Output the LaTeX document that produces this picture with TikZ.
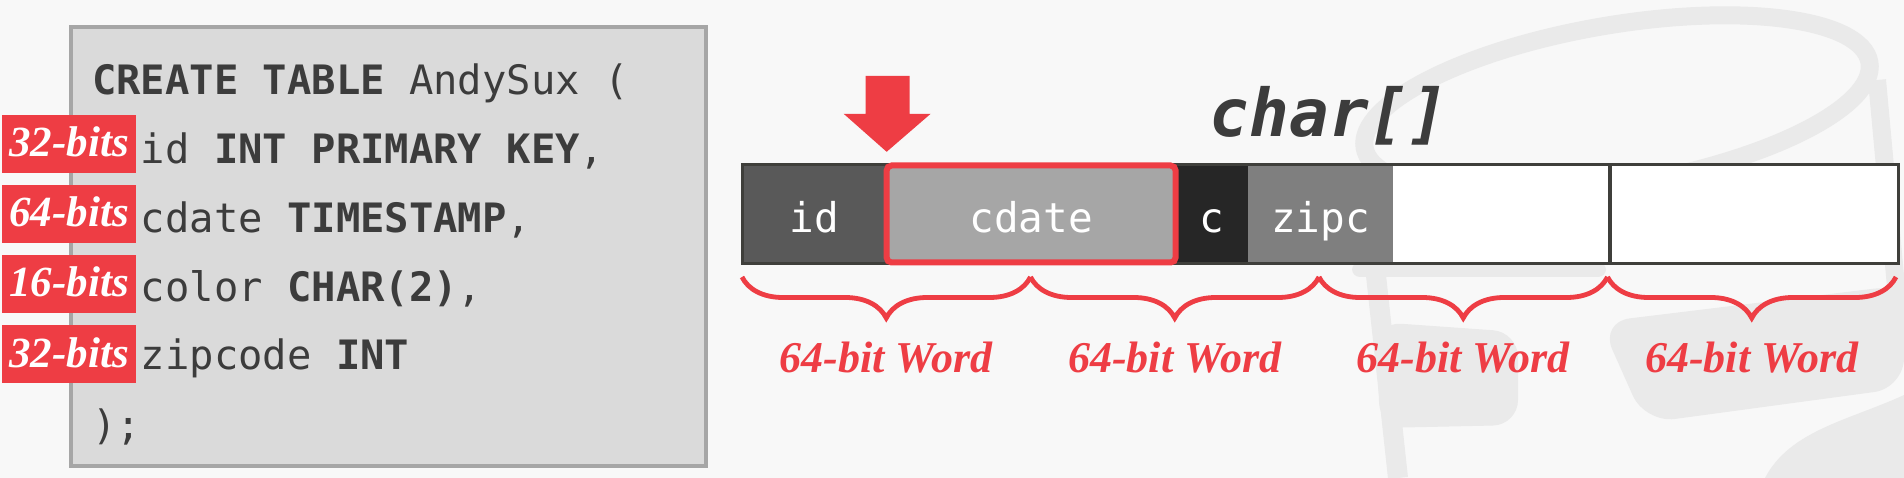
\documentclass[tikz,border=0pt]{standalone}
\usepackage{fontspec}
\usetikzlibrary{decorations.pathreplacing}
\newfontfamily\codefont{DejaVu Sans Mono}
\newfontfamily\titlefont{DejaVu Sans Mono Bold Oblique}
\newfontfamily\labfont{Liberation Serif Bold Italic}
\definecolor{bgc}{HTML}{F8F8F8}
\definecolor{wmc}{HTML}{EAEAEA}
\definecolor{redc}{HTML}{EE3D44}
\definecolor{codec}{HTML}{3C3C3C}
\definecolor{sqlfill}{HTML}{DADADA}
\definecolor{sqlline}{HTML}{A6A6A6}
\definecolor{outl}{HTML}{3F3F3B}
\definecolor{cid}{HTML}{595959}
\definecolor{ccdate}{HTML}{A6A6A6}
\definecolor{cc}{HTML}{262626}
\definecolor{czip}{HTML}{7F7F7F}
\begin{document}
\begin{tikzpicture}[x=1pt,y=-1pt,
  code/.style={inner sep=0pt, anchor=base west, text=codec,
    font=\codefont\fontsize{40.5}{40.5}\selectfont},
  bitlab/.style={fill=redc, text=white, anchor=east, inner xsep=7pt, inner ysep=0pt,
    minimum height=58pt, text height=26pt, text depth=0pt,
    font=\labfont\fontsize{43}{43}\selectfont},
  cell/.style={anchor=west, inner sep=0pt, minimum height=98pt,
    text height=38pt, text depth=0pt, text=white,
    font=\codefont\fontsize{41}{41}\selectfont},
  wbrace/.style={draw=redc, line width=4.8pt, decorate,
    decoration={brace, mirror, amplitude=41pt}},
  wordlab/.style={anchor=base, inner sep=0pt, text=redc,
    font=\labfont\fontsize{44}{44}\selectfont},
  wm/.style={draw=wmc, fill=wmc}
]
\useasboundingbox (0,0) rectangle (1904,478);
\fill[bgc] (0,0) rectangle (1904,478);

% faint watermark (database logo)
\begin{scope}[wm]
  \draw[fill=none, line width=18pt, rotate around={9.6:(1617,105)}]
    (1617,105) ellipse [x radius=256, y radius=80];
  \draw[line width=20pt] (1364,165) -- (1398,478);
  \draw[line width=18pt] (1877,80) -- (1900,330);
  \fill[rounded corners=8pt] (1352,262) rectangle (1606,277);
  \fill[rounded corners=25pt] (1376,322) -- (1518,332) -- (1518,425) -- (1380,428) -- cycle;
  \fill[rounded corners=30pt] (1600,322) -- (1904,285) -- (1904,388) -- (1645,423) -- cycle;
  \fill (1765,478) .. controls (1790,430) and (1850,420) .. (1904,395) -- (1904,478) -- cycle;
\end{scope}

% SQL box
\node[draw=sqlline, line width=4pt, fill=sqlfill, minimum width=635pt,
  minimum height=439pt, inner sep=0pt] (sql) at (388.5,246.5) {};

\node[code] (l1) at (92,95)  {\textbf{CREATE TABLE} AndySux (};
\node[code] (l2) at (92,164) {\phantom{xx}id \textbf{INT PRIMARY KEY},};
\node[code] (l3) at (92,233) {\phantom{xx}cdate \textbf{TIMESTAMP},};
\node[code] (l4) at (92,302) {\phantom{xx}color \textbf{CHAR(2)},};
\node[code] (l5) at (92,370) {\phantom{xx}zipcode \textbf{INT}};
\node[code] (l6) at (92,439) {);};

\node[bitlab] (b1) at (136,144) {32-bits};
\node[bitlab] (b2) at (136,214) {64-bits};
\node[bitlab] (b3) at (136,284) {16-bits};
\node[bitlab] (b4) at (136,354) {32-bits};

% title
\node[anchor=base, inner sep=0pt, text=codec,
  font=\titlefont\fontsize{66}{66}\selectfont] (title) at (1329,137) {char[]};

% byte array
\node[cell, fill=cid, minimum width=144.25pt] (cid) at (742,214) {id};
\node[cell, fill=ccdate, minimum width=288.5pt] (cdate) at (cid.east) {cdate};
\node[cell, fill=cc, minimum width=72.125pt] (cc) at (cdate.east) {c};
\node[cell, fill=czip, minimum width=144.25pt] (czip) at (cc.east) {zipc};
\node[cell, fill=white, minimum width=216.375pt] (w1) at (czip.east) {};
\node[cell, fill=white, minimum width=288.5pt] (w2) at (w1.east) {};
\draw[outl, line width=3pt] (cid.north west) rectangle (w2.south east);
\draw[outl, line width=4pt] (w2.north west) -- (w2.south west);

% highlight
\node[draw=redc, line width=6pt, rounded corners=5pt, minimum width=289pt,
  minimum height=97pt, inner sep=0pt] (sel) at (cdate.center) {};

% arrow
\coordinate (tip) at ([yshift=13pt]cid.north east);
\fill[redc] (tip) -- ++(-43,-38) -- ++(22,0) -- ++(0,-38) -- ++(44,0)
  -- ++(0,38) -- ++(21,0) -- cycle;

% braces
\coordinate (q0) at (742,277);
\coordinate (q1) at (1030.5,277);
\coordinate (q2) at (1319,277);
\coordinate (q3) at (1607.5,277);
\coordinate (q4) at (1896,277);
\draw[wbrace] (q0) -- (q1);
\draw[wbrace] (q1) -- (q2);
\draw[wbrace] (q2) -- (q3);
\draw[wbrace] (q3) -- (q4);
\node[wordlab] (t1) at (886.25,372)  {64-bit Word};
\node[wordlab] (t2) at (1174.75,372) {64-bit Word};
\node[wordlab] (t3) at (1463.25,372) {64-bit Word};
\node[wordlab] (t4) at (1751.75,372) {64-bit Word};
\end{tikzpicture}
\end{document}
